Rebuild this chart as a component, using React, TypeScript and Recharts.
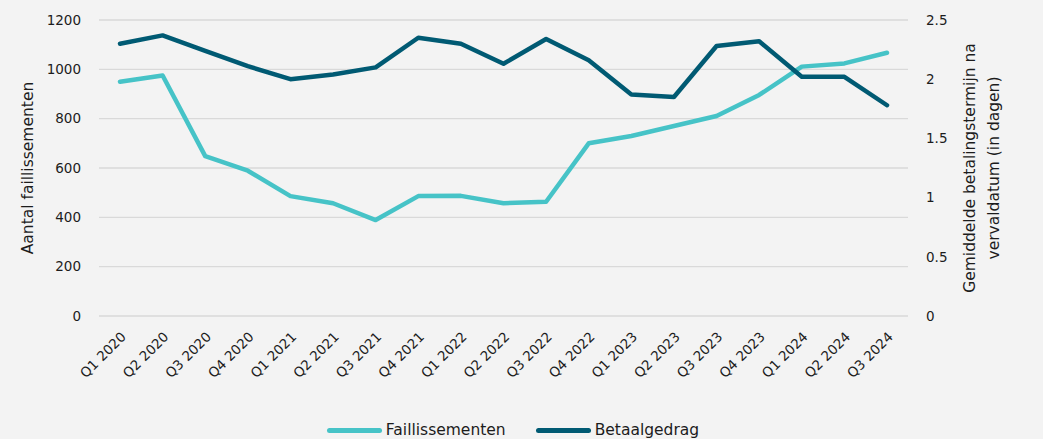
import { CartesianGrid, Legend, Line, LineChart, XAxis, YAxis } from "recharts";

document.body.style.margin = "0";

const quarters = [
  "Q1 2020", "Q2 2020", "Q3 2020", "Q4 2020",
  "Q1 2021", "Q2 2021", "Q3 2021", "Q4 2021",
  "Q1 2022", "Q2 2022", "Q3 2022", "Q4 2022",
  "Q1 2023", "Q2 2023", "Q3 2023", "Q4 2023",
  "Q1 2024", "Q2 2024", "Q3 2024",
];
const faillissementen = [
  950, 975, 648, 589, 486, 457, 389, 486, 487, 457,
  463, 700, 730, 770, 811, 896, 1011, 1024, 1067,
];
const betaalgedrag = [
  2.3, 2.37, 2.24, 2.11, 2.0, 2.04, 2.1, 2.35, 2.3, 2.13,
  2.34, 2.16, 1.87, 1.85, 2.28, 2.32, 2.02, 2.02, 1.78,
];
const leftTicks = [0, 200, 400, 600, 800, 1000, 1200];
const rightTicks = [0, 0.5, 1, 1.5, 2, 2.5];

const data = quarters.map((q, i) => ({
  quarter: q,
  faillissementen: faillissementen[i],
  betaalgedrag: betaalgedrag[i],
}));

const TEAL = "#46c3c7";
const NAVY = "#005a73";
const FONT = "'DejaVu Sans', sans-serif";
const INK = "#1c1c1c";
const tickStyle = { fill: INK, fontSize: 13.5, fontFamily: FONT };

function LeftLabel({ viewBox }: any) {
  const cx = viewBox.x + 28;
  const cy = viewBox.y + viewBox.height / 2;
  return (
    <text
      x={cx}
      y={cy}
      transform={`rotate(-90 ${cx} ${cy})`}
      textAnchor="middle"
      dominantBaseline="central"
      fill={INK}
      fontSize={15.5}
      fontFamily={FONT}
    >
      Aantal faillissementen
    </text>
  );
}

function RightLabel({ viewBox }: any) {
  const cy = viewBox.y + viewBox.height / 2;
  const x1 = viewBox.x + 62;
  const x2 = viewBox.x + 86;
  return (
    <g fill={INK} fontSize={15.5} fontFamily={FONT}>
      <text x={x1} y={cy} transform={`rotate(-90 ${x1} ${cy})`} textAnchor="middle" dominantBaseline="central">
        Gemiddelde betalingstermijn na
      </text>
      <text x={x2} y={cy} transform={`rotate(-90 ${x2} ${cy})`} textAnchor="middle" dominantBaseline="central">
        vervaldatum (in dagen)
      </text>
    </g>
  );
}

function LegendContent() {
  const items = [
    { label: "Faillissementen", color: TEAL },
    { label: "Betaalgedrag", color: NAVY },
  ];
  return (
    <div
      style={{
        position: "relative",
        top: 3,
        height: 24,
        display: "flex",
        justifyContent: "center",
        alignItems: "center",
        gap: 30,
        paddingRight: 17,
        fontFamily: FONT,
        fontSize: 15.5,
        color: INK,
      }}
    >
      {items.map((it) => (
        <div key={it.label} style={{ display: "flex", alignItems: "center", gap: 4 }}>
          <span style={{ width: 55, height: 5, borderRadius: 3, background: it.color, display: "inline-block" }} />
          <span>{it.label}</span>
        </div>
      ))}
    </div>
  );
}

export default function App() {
  return (
    <div style={{ width: 1043, height: 439, background: "#f3f3f3", overflow: "hidden" }}>
      <LineChart width={1043} height={439} data={data} margin={{ top: 20, right: 0, bottom: 0, left: 0 }}>
        <CartesianGrid yAxisId="left" vertical={false} stroke="#d9d9d9" strokeWidth={1.3} />
        <XAxis
          dataKey="quarter"
          interval={0}
          axisLine={false}
          tickLine={false}
          padding={{ left: 21, right: 21 }}
          height={99}
          angle={-45}
          textAnchor="end"
          tickMargin={9}
          tick={tickStyle}
        />
        <YAxis
          yAxisId="left"
          width={99}
          domain={[0, 1200]}
          ticks={leftTicks}
          axisLine={false}
          tickLine={false}
          tickMargin={12}
          tick={tickStyle}
          label={<LeftLabel />}
        />
        <YAxis
          yAxisId="right"
          orientation="right"
          width={135}
          domain={[0, 2.5]}
          ticks={rightTicks}
          axisLine={false}
          tickLine={false}
          tickMargin={12}
          tick={tickStyle}
          label={<RightLabel />}
        />
        <Legend verticalAlign="bottom" height={24} content={<LegendContent />} />
        <Line
          yAxisId="left"
          dataKey="faillissementen"
          name="Faillissementen"
          stroke={TEAL}
          strokeWidth={4.5}
          strokeLinecap="round"
          strokeLinejoin="round"
          dot={false}
          activeDot={false}
          isAnimationActive={false}
        />
        <Line
          yAxisId="right"
          dataKey="betaalgedrag"
          name="Betaalgedrag"
          stroke={NAVY}
          strokeWidth={4.5}
          strokeLinecap="round"
          strokeLinejoin="round"
          dot={false}
          activeDot={false}
          isAnimationActive={false}
        />
      </LineChart>
    </div>
  );
}
